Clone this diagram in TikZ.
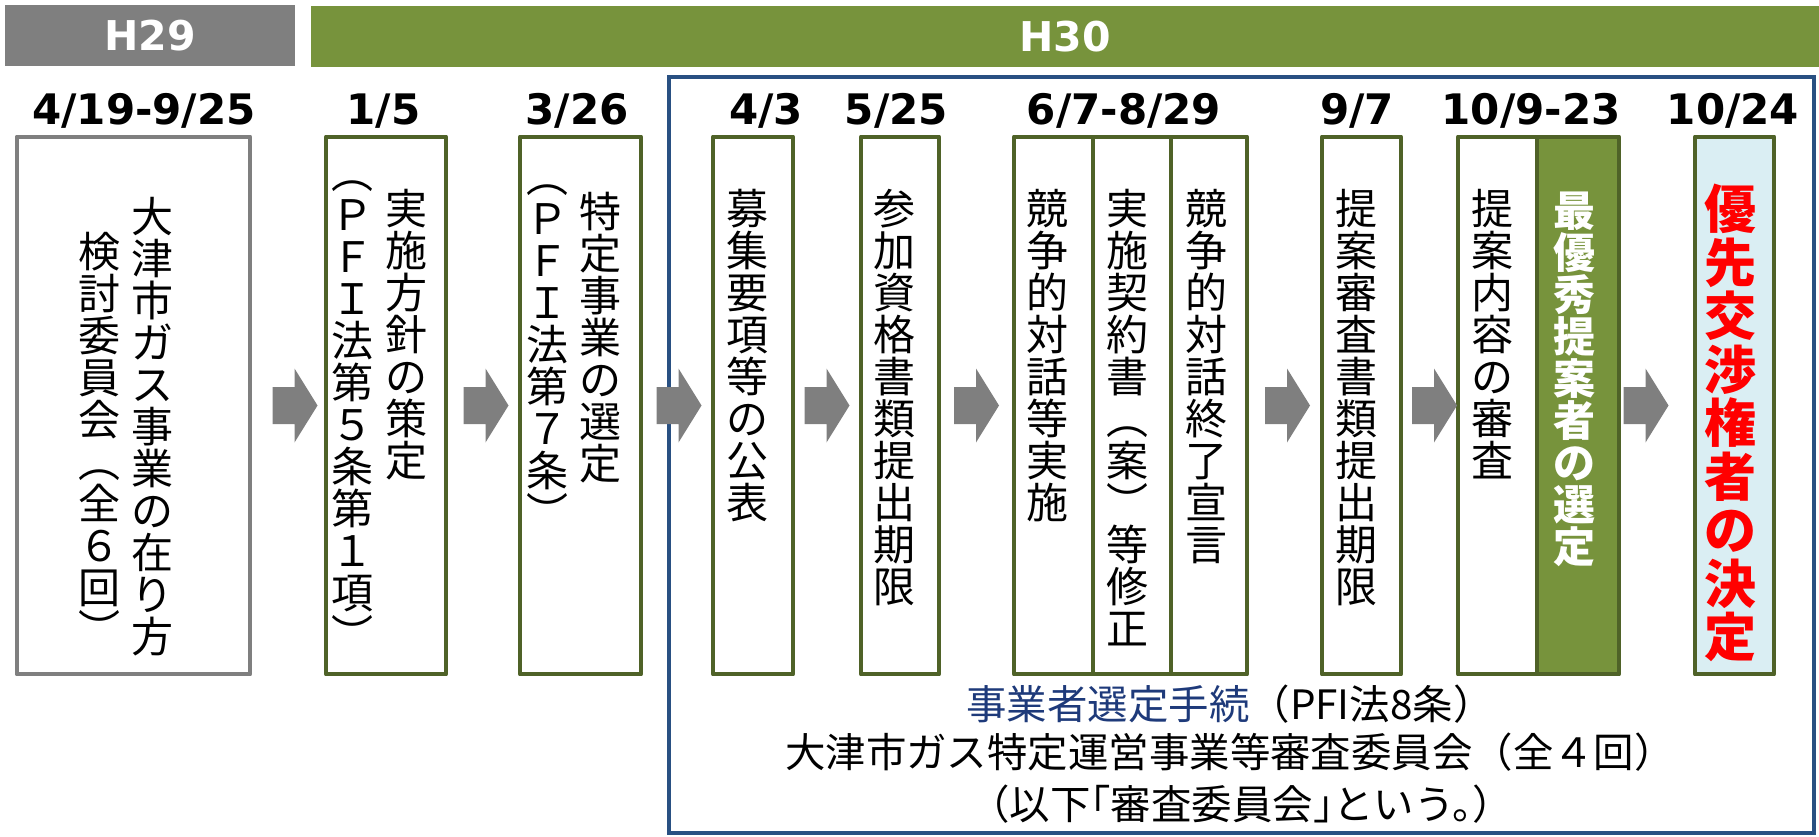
\documentclass[tikz,border=0pt]{standalone}
\usepackage{fontspec}
\usetikzlibrary{calc}
\newfontfamily\jp{Noto Sans CJK JP}
\newfontfamily\jphalt{Noto Sans CJK JP}[RawFeature=+halt]
\newfontfamily\num{DejaVu Sans}
\definecolor{barGray}{RGB}{127,127,127}
\definecolor{barGreen}{RGB}{119,147,60}
\definecolor{boxGreen}{RGB}{79,98,40}
\definecolor{frameBlue}{RGB}{41,80,130}
\definecolor{textBlue}{RGB}{30,58,122}
\definecolor{paleBlue}{RGB}{218,238,243}
% vertical text: one character per cell
\makeatletter
\def\tate@end{}
\newcommand\tate[1]{\vbox{\lineskip=0pt\lineskiplimit=-\maxdimen\tate@next#1\tate@end}}
\def\tate@next#1{\ifx\tate@end#1\else\hbox to 1em{\hss\vrule height.88em depth.12em width0pt#1\hss}\expandafter\tate@next\fi}
\makeatother

\begin{document}
\begin{tikzpicture}[x=0.01cm,y=-0.01cm,
  box/.style={draw=boxGreen,line width=1.3pt,line join=round,fill=white,inner sep=0,outer sep=0,minimum height=5.37cm},
  tcol/.style={inner sep=0,anchor=north,font=\jp\fontsize{11.95pt}{11.95pt}\selectfont},
  datelbl/.style={anchor=base,inner sep=0,font=\num\bfseries\fontsize{11.95pt}{14pt}\selectfont},
  yearbar/.style={inner sep=0,minimum height=0.61cm,text=white,font=\num\bfseries\fontsize{11.67pt}{14pt}\selectfont},
  note/.style={anchor=base,inner sep=0,font=\jp\fontsize{11.5pt}{14pt}\selectfont}]
 \useasboundingbox (0,0) rectangle (1819,837);

 % years
 \node[yearbar,fill=barGray,minimum width=2.90cm] (h29) at (150,35.5) {H29};
 \node[yearbar,fill=barGreen,minimum width=15.08cm] (h30) at (1065,36.5) {H30};

 % selection procedure frame
 \node[draw=frameBlue,line width=1.15pt,inner sep=0,minimum width=11.45cm,minimum height=7.56cm] (frame) at (1241.5,455) {};

 % boxes
 \node[box,draw=barGray,minimum width=2.33cm] (b1) at (133.5,405.5) {};
 \node[box,minimum width=1.20cm] (b2) at (386,405.5) {};
 \node[box,minimum width=1.21cm] (b3) at (580.5,405.5) {};
 \node[box,minimum width=0.80cm] (b4) at (753,405.5) {};
 \node[box,minimum width=0.78cm] (b5) at (900,405.5) {};
 \node[box,minimum width=0.79cm] (b6a) at (1053.5,405.5) {};
 \node[box,minimum width=0.78cm] (b6b) at (1132,405.5) {};
 \node[box,minimum width=0.76cm] (b6c) at (1209,405.5) {};
 \node[box,minimum width=0.79cm] (b7) at (1361.5,405.5) {};
 \node[box,minimum width=0.79cm] (b8a) at (1497.5,405.5) {};
 \node[box,fill=barGreen,minimum width=0.82cm] (b8b) at (1578,405.5) {};
 \node[box,fill=paleBlue,minimum width=0.79cm] (b9) at (1734.5,405.5) {};

 % texts in the boxes
 \node[tcol] (b1r) at (153,195) {\tate{大津市ガス事業の在り方}};
 \node[tcol] (b1l) at (100,230) {\tate{検討委員会︵全６回︶}};
 \node[tcol] (b2r) at (407,187) {\tate{実施方針の策定}};
 \node[tcol] (b2l) at (353,151) {\tate{︵ＰＦＩ法第５条第１項︶}};
 \node[tcol] (b3r) at (600,190) {\tate{特定事業の選定}};
 \node[tcol] (b3l) at (548,155) {\tate{︵ＰＦＩ法第７条︶}};
 \node[tcol] (b4t) at (747.5,187) {\tate{募集要項等の公表}};
 \node[tcol] (b5t) at (894,187) {\tate{参加資格書類提出期限}};
 \node[tcol] (b6at) at (1047,187) {\tate{競争的対話等実施}};
 \node[tcol] (b6bt) at (1127,187) {\tate{実施契約書︵案︶等修正}};
 \node[tcol] (b6ct) at (1206,187) {\tate{競争的対話終了宣言}};
 \node[tcol] (b7t) at (1356,187) {\tate{提案審査書類提出期限}};
 \node[tcol] (b8at) at (1492,187) {\tate{提案内容の審査}};
 \node[tcol,text=white,font=\jp\bfseries\fontsize{11.95pt}{11.95pt}\selectfont] (b8bt) at (1574,189) {\tate{最優秀提案者の選定}};
 \node[tcol,text=red,font=\jp\bfseries\fontsize{14.8pt}{15.22pt}\selectfont] (b9t) at (1730,182) {\tate{優先交渉権者の決定}};

 % dates
 \node[datelbl] (d1) at (144,125) {4/19-9/25};
 \node[datelbl] (d2) at (383.5,125) {1/5};
 \node[datelbl] (d3) at (577,125) {3/26};
 \node[datelbl] (d4) at (766,125) {4/3};
 \node[datelbl] (d5) at (896.5,125) {5/25};
 \node[datelbl] (d6) at (1124,125) {6/7-8/29};
 \node[datelbl] (d7) at (1357,125) {9/7};
 \node[datelbl] (d8) at (1531,125) {10/9-23};
 \node[datelbl] (d9) at (1733,125) {10/24};

 % arrows
 \foreach \a/\b/\s in {b1/b2/7,b2/b3/3,b3/b4/2,b4/b5/0,b5/b6a/0,b6c/b7/3,b7/b8a/5,b8b/b9/-11}
  \fill[barGray] ($(\a.east)!.5!(\b.west)+(\s,0)$) ++(-22.5,-18.5) -- ++(22,0) -- ++(0,-18.5)
   -- ++(23,37) -- ++(-23,37) -- ++(0,-18.5) -- ++(-22,0) -- cycle;

 % notes under the boxes
 \node[note] (n1) at (1230,719) {{\color{textBlue}事業者選定手続}（PFI法8条）};
 \node[note] (n2) at (1230,767) {大津市ガス特定運営事業等審査委員会（全４回）};
 \node[note,font=\jphalt\fontsize{11.5pt}{14pt}\selectfont] (n3) at (1241,819) {（以下「審査委員会」という。）};
\end{tikzpicture}
\end{document}
